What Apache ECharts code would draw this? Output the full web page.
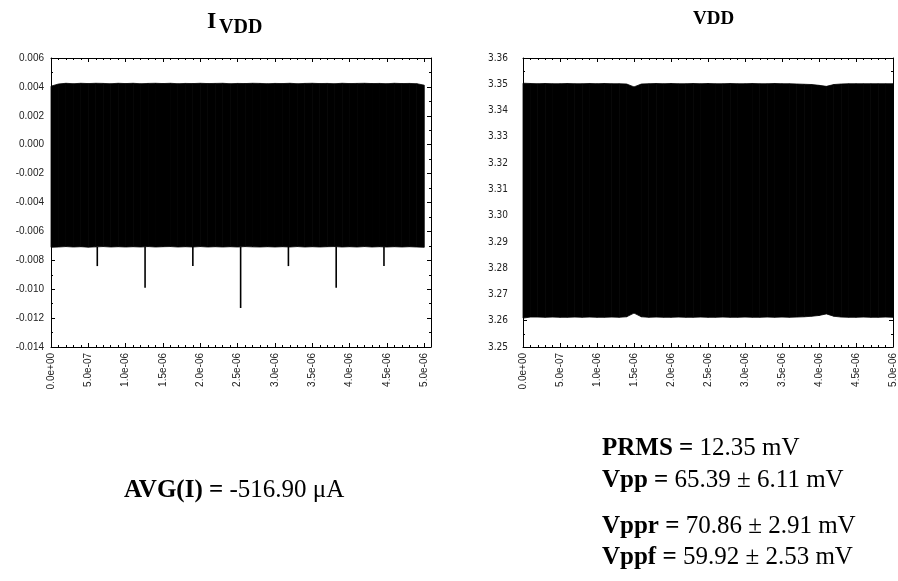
<!DOCTYPE html>
<html>
<head>
<meta charset="utf-8">
<script src="https://cdn.jsdelivr.net/npm/echarts@6/dist/echarts.min.js"></script>
<style>
html,body{margin:0;padding:0;background:#fff;}
#chart{width:898px;height:581px;}
</style>
</head>
<body>
<div id="chart"></div>
<script>
// ---- data ----
// sample times (s) where the envelope of the dense signal was read
const tSamples = [0.0e-6,0.1e-6,0.2e-6,0.3e-6,0.4e-6,0.5e-6,0.6e-6,0.7e-6,0.8e-6,0.9e-6,
  1.0e-6,1.1e-6,1.2e-6,1.3e-6,1.4e-6,1.5e-6,1.6e-6,1.7e-6,1.8e-6,1.9e-6,
  2.0e-6,2.1e-6,2.2e-6,2.3e-6,2.4e-6,2.5e-6,2.6e-6,2.7e-6,2.8e-6,2.9e-6,
  3.0e-6,3.1e-6,3.2e-6,3.3e-6,3.4e-6,3.5e-6,3.6e-6,3.7e-6,3.8e-6,3.9e-6,
  4.0e-6,4.1e-6,4.2e-6,4.3e-6,4.4e-6,4.5e-6,4.6e-6,4.7e-6,4.8e-6,4.9e-6,5.0e-6];
// I_VDD upper / lower envelope (A)
const iTop = [0.00405,0.00420,0.00425,0.00422,0.00425,0.00423,0.00425,0.00424,0.00422,0.00425,
  0.00423,0.00425,0.00422,0.00424,0.00425,0.00423,0.00425,0.00422,0.00424,0.00423,
  0.00425,0.00423,0.00424,0.00425,0.00422,0.00424,0.00423,0.00425,0.00424,0.00422,
  0.00424,0.00423,0.00425,0.00422,0.00424,0.00425,0.00423,0.00424,0.00422,0.00425,
  0.00423,0.00424,0.00425,0.00423,0.00424,0.00422,0.00425,0.00423,0.00424,0.00422,0.00412];
const iBot = [-0.00710,-0.00708,-0.00705,-0.00708,-0.00706,-0.00709,-0.00707,-0.00705,-0.00708,-0.00706,
  -0.00708,-0.00706,-0.00708,-0.00705,-0.00708,-0.00706,-0.00705,-0.00708,-0.00706,-0.00708,
  -0.00705,-0.00708,-0.00706,-0.00708,-0.00706,-0.00708,-0.00705,-0.00707,-0.00708,-0.00706,
  -0.00708,-0.00706,-0.00708,-0.00705,-0.00708,-0.00706,-0.00708,-0.00706,-0.00705,-0.00708,
  -0.00706,-0.00708,-0.00705,-0.00708,-0.00706,-0.00708,-0.00706,-0.00708,-0.00706,-0.00708,-0.00710];
// I_VDD negative spikes: time (s) and minimum (A)
const iSpikeT = [0.62e-6,1.26e-6,1.90e-6,2.54e-6,3.18e-6,3.82e-6,4.46e-6];
const iSpikeMin = [-0.0084,-0.0099,-0.0084,-0.0113,-0.0084,-0.0099,-0.0084];
// VDD upper / lower envelope (V)
const vTop = [3.3504,3.3503,3.3502,3.3503,3.3502,3.3502,3.3503,3.3502,3.3502,3.3503,
  3.3502,3.3503,3.3502,3.3502,3.3501,3.3490,3.3501,3.3502,3.3503,3.3502,
  3.3503,3.3502,3.3502,3.3503,3.3502,3.3503,3.3502,3.3502,3.3503,3.3502,
  3.3502,3.3503,3.3502,3.3502,3.3503,3.3502,3.3502,3.3501,3.3500,3.3499,
  3.3496,3.3492,3.3499,3.3501,3.3502,3.3502,3.3502,3.3502,3.3502,3.3502,3.3502];
const vBot = [3.2610,3.2614,3.2614,3.2613,3.2614,3.2613,3.2613,3.2614,3.2613,3.2614,
  3.2613,3.2613,3.2614,3.2613,3.2615,3.2629,3.2615,3.2613,3.2614,3.2613,
  3.2613,3.2614,3.2613,3.2613,3.2614,3.2613,3.2613,3.2614,3.2613,3.2613,
  3.2614,3.2613,3.2613,3.2614,3.2613,3.2614,3.2613,3.2614,3.2615,3.2617,
  3.2620,3.2626,3.2617,3.2614,3.2613,3.2613,3.2614,3.2613,3.2613,3.2614,3.2613];
// axis ranges / ticks
const iAxis = {min: -0.014, max: 0.006, interval: 0.002};
const vAxis = {min: 3.25, max: 3.36, interval: 0.01};
const tAxisLeft = {min: 0, max: 5.09e-6, interval: 0.5e-6};
const tAxisRight = {min: 0, max: 5.0e-6, interval: 0.5e-6};
// texts
const titleLeftMain = 'I', titleLeftSub = 'VDD', titleRight = 'VDD';
const avgText = ['AVG(I) =', '-516.90 μA'];
const vddStats = [
  ['PRMS =', '12.35 mV'],
  ['Vpp =', '65.39 ± 6.11 mV'],
  ['Vppr =', '70.86 ± 2.91 mV'],
  ['Vppf =', '59.92 ± 2.53 mV']
];

// ---- chart ----
function expFmt(v) {
  if (Math.abs(v) < 1e-12) return '0.0e+00';
  return v.toExponential(1).replace(/e([+-])(\d+)$/, function (m, s, d) {
    return 'e' + s + (d.length < 2 ? '0' + d : d);
  });
}
const LBL = '#222';
const sans = 'Liberation Sans, Arial, sans-serif';
const serif = 'Liberation Serif, Times New Roman, serif';

function xAxes(gridIndex, rng) {
  const common = {
    type: 'value', gridIndex: gridIndex, min: rng.min, max: rng.max, interval: rng.interval,
    axisLine: {show: true, onZero: false, lineStyle: {color: '#000', width: 1}},
    axisTick: {show: true, inside: true, length: 4, lineStyle: {color: '#000'}},
    minorTick: {show: true, splitNumber: 5, length: 2, lineStyle: {color: '#000'}},
    splitLine: {show: false}, minorSplitLine: {show: false}
  };
  return [
    Object.assign({}, common, {position: 'bottom',
      axisLabel: {show: true, rotate: 90, margin: 6, fontSize: 10, fontFamily: sans, color: LBL,
        showMaxLabel: rng.max === 5.0e-6, formatter: expFmt}}),
    Object.assign({}, common, {position: 'top', axisLabel: {show: false}})
  ];
}
function yAxes(gridIndex, rng, digits, margin, fontFamily) {
  const common = {
    type: 'value', gridIndex: gridIndex, min: rng.min, max: rng.max, interval: rng.interval,
    axisLine: {show: true, onZero: false, lineStyle: {color: '#000', width: 1}},
    axisTick: {show: true, inside: true, length: 4, lineStyle: {color: '#000'}},
    minorTick: {show: true, splitNumber: 2, length: 2, lineStyle: {color: '#000'}},
    splitLine: {show: false}, minorSplitLine: {show: false}
  };
  return [
    Object.assign({}, common, {position: 'left',
      axisLabel: {show: true, margin: margin, fontSize: 10, fontFamily: fontFamily, color: LBL,
        formatter: function (v) { return v.toFixed(digits); }}}),
    Object.assign({}, common, {position: 'right', axisLabel: {show: false}})
  ];
}

// dense oscillation drawn as the filled envelope between lower and upper values
function bandSeries(xi, yi, tops, bots) {
  const data = [];
  for (let k = 0; k < tSamples.length - 1; k++) {
    data.push([tSamples[k], tops[k], bots[k], tSamples[k + 1], tops[k + 1], bots[k + 1]]);
  }
  return {
    type: 'custom', xAxisIndex: xi, yAxisIndex: yi, z: 2, silent: true,
    data: data,
    encode: {x: [0, 3], y: [1, 2, 4, 5]},
    renderItem: function (params, api) {
      const a = api.coord([api.value(0), api.value(1)]);
      const b = api.coord([api.value(3), api.value(4)]);
      const c = api.coord([api.value(3), api.value(5)]);
      const d = api.coord([api.value(0), api.value(2)]);
      return {type: 'polygon', shape: {points: [a, b, c, d]},
        style: {fill: '#000', stroke: '#000', lineWidth: 0.8}};
    }
  };
}
function nearestBot(t) {
  let best = 0;
  for (let k = 0; k < tSamples.length; k++) {
    if (Math.abs(tSamples[k] - t) < Math.abs(tSamples[best] - t)) best = k;
  }
  return iBot[best];
}

const series = [
  bandSeries(0, 0, iTop, iBot),
  bandSeries(2, 2, vTop, vBot),
  {
    type: 'custom', xAxisIndex: 0, yAxisIndex: 0, z: 3, silent: true,
    data: iSpikeT.map(function (t, k) { return [t, nearestBot(t), iSpikeMin[k]]; }),
    encode: {x: 0, y: [1, 2]},
    renderItem: function (params, api) {
      const p0 = api.coord([api.value(0), api.value(1)]);
      const p1 = api.coord([api.value(0), api.value(2)]);
      return {type: 'line', shape: {x1: p0[0], y1: p0[1], x2: p1[0], y2: p1[1]},
        style: {stroke: '#000', lineWidth: 1.6}};
    }
  }
];

function richText(pair, left, top, size) {
  return {type: 'text', left: left, top: top,
    style: {text: '{b|' + pair[0] + '} {n|' + pair[1] + '}', fill: '#000',
      font: size + 'px ' + serif,
      rich: {b: {fontWeight: 'bold', fontSize: size, fontFamily: serif, fill: '#000'},
             n: {fontWeight: 'normal', fontSize: size, fontFamily: serif, fill: '#000'}}}};
}

const option = {
  animation: false,
  backgroundColor: '#fff',
  grid: [
    {left: 51, top: 58, width: 380, height: 289, containLabel: false},
    {left: 523, top: 58, width: 374, height: 289, containLabel: false}
  ],
  xAxis: xAxes(0, tAxisLeft).concat(xAxes(1, tAxisRight)),
  yAxis: yAxes(0, iAxis, 3, 7, sans).concat(yAxes(1, vAxis, 2, 15, 'Liberation Sans Narrow, DejaVu Sans Condensed, ' + sans)),
  series: series,
  graphic: [
    {type: 'text', left: 207, top: 10,
      style: {text: titleLeftMain, font: 'bold 24px ' + serif, fill: '#000'}},
    {type: 'text', left: 219, top: 18,
      style: {text: titleLeftSub, font: 'bold 20px ' + serif, fill: '#000'}},
    {type: 'text', left: 693, top: 10,
      style: {text: titleRight, font: 'bold 19px ' + serif, fill: '#000'}},
    richText(avgText, 124, 478, 25),
    richText(vddStats[0], 602, 436, 25),
    richText(vddStats[1], 602, 468, 25),
    richText(vddStats[2], 602, 514, 25),
    richText(vddStats[3], 602, 545, 25)
  ]
};
const chart = echarts.init(document.getElementById('chart'), null, {renderer: 'canvas'});
chart.setOption(option);
</script>
</body>
</html>
